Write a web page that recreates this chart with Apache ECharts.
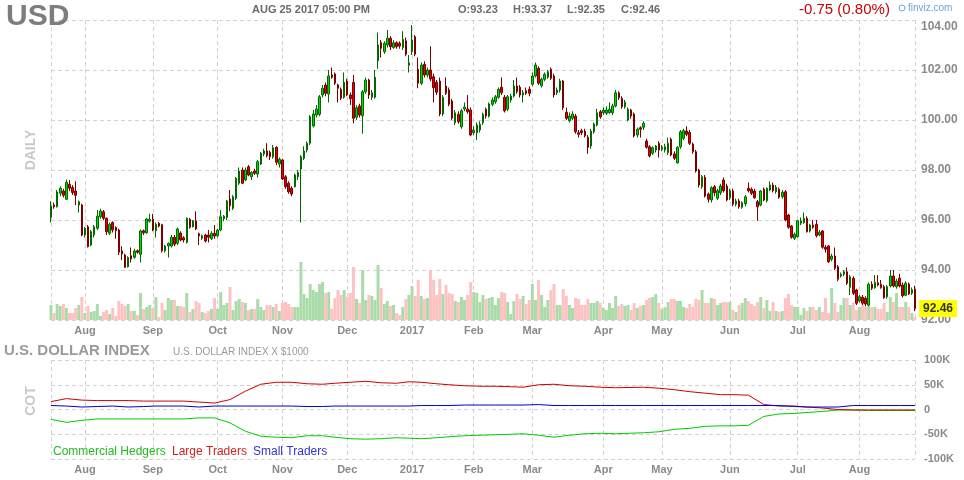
<!DOCTYPE html>
<html><head><meta charset="utf-8">
<script src="https://cdn.jsdelivr.net/npm/echarts@6/dist/echarts.min.js"></script>
<style>html,body{margin:0;padding:0;background:#fff}#c{width:964px;height:480px}</style>
</head><body><div id="c"></div>
<script>
// ---------- DATA ----------
const firstDay = '2016-07-15';
const lastDay = '2017-08-25';
const closedDays = ['2016-08-29','2016-09-05','2016-11-24','2016-12-26','2017-01-02','2017-01-16','2017-02-20','2017-04-14','2017-05-29','2017-07-04'];
const monthNames = ['Jan','Feb','Mar','Apr','May','Jun','Jul','Aug','Sep','Oct','Nov','Dec'];

// daily candles [open, high, low, close]
const candles = [
[96.11,96.75,95.90,96.56],[96.60,96.70,96.45,96.53],[96.53,97.20,96.50,97.12],[97.07,97.35,96.95,97.27],[97.16,97.25,96.90,96.99],
[96.83,97.62,96.80,97.51],[97.43,97.60,97.15,97.27],[97.30,97.40,97.00,97.10],[97.16,97.55,96.60,96.99],[96.60,96.78,96.30,96.73],
[96.60,96.65,95.35,95.40],[95.40,95.72,95.30,95.67],[95.73,95.80,94.90,94.93],[95.00,95.60,94.95,95.53],[95.40,95.80,95.30,95.73],
[95.67,96.40,95.60,96.16],[96.13,96.45,96.05,96.36],[96.33,96.40,96.00,96.07],[96.07,96.10,95.40,95.53],[95.47,95.90,95.40,95.83],
[95.90,95.95,95.50,95.60],[95.70,95.75,95.25,95.57],[95.60,95.65,94.60,94.71],[94.76,94.95,94.40,94.64],[94.60,94.65,94.08,94.11],
[94.13,94.55,94.10,94.50],[94.57,94.90,94.30,94.44],[94.51,94.85,94.45,94.76],[94.77,94.82,94.65,94.71],[94.63,95.62,94.30,95.56],
[95.57,95.62,95.40,95.49],[95.49,96.08,95.45,96.04],[95.95,96.25,95.90,96.03],[96.03,96.25,95.55,95.60],[95.57,95.90,95.30,95.83],
[95.87,95.92,95.70,95.76],[95.81,95.85,94.70,94.77],[94.77,95.00,94.70,94.96],[94.96,95.10,94.50,95.07],[94.96,95.40,94.90,95.31],
[95.31,95.40,94.95,95.03],[95.07,95.70,95.00,95.64],[95.48,95.55,95.15,95.20],[95.29,95.35,95.10,95.20],[95.11,96.10,95.05,96.07],
[96.03,96.08,95.65,95.71],[95.73,96.00,95.70,95.97],[95.97,96.35,95.60,95.64],[95.45,95.50,95.00,95.36],[95.27,95.42,95.20,95.37],
[95.40,95.45,95.10,95.16],[95.40,95.60,95.10,95.31],[95.25,95.55,95.20,95.47],[95.47,95.80,95.25,95.36],[95.37,95.65,95.30,95.60],
[95.60,96.40,95.55,96.13],[96.05,96.20,95.95,96.15],[96.10,96.80,96.00,96.76],[96.84,97.20,96.35,96.57],[96.47,97.00,96.40,96.93],
[96.87,97.72,96.80,97.67],[97.47,98.10,97.40,97.96],[98.00,98.10,97.45,97.47],[97.60,98.10,97.55,98.00],[98.13,98.20,97.75,97.80],
[97.73,97.95,97.60,97.90],[97.96,98.05,97.80,97.87],[97.84,98.40,97.70,98.33],[98.24,98.72,98.20,98.67],[98.64,98.85,98.55,98.76],
[98.76,99.07,98.50,98.57],[98.71,98.78,98.40,98.53],[98.53,99.00,98.45,98.89],[98.91,98.95,98.20,98.31],[98.24,98.50,98.10,98.43],
[98.40,98.45,97.60,97.64],[97.73,97.80,97.25,97.33],[97.47,97.55,97.05,97.13],[97.27,97.35,96.95,97.04],[97.33,97.85,97.30,97.80],
[97.73,98.00,97.60,97.90],[98.04,98.60,95.90,98.53],[98.47,98.95,98.40,98.76],[98.80,99.15,98.70,99.07],[99.07,100.20,99.00,100.13],
[99.76,100.40,99.70,100.24],[100.20,100.60,100.10,100.44],[100.23,101.00,100.15,100.93],[101.00,101.40,100.90,101.27],[101.40,101.50,100.95,101.07],
[101.04,102.00,100.70,101.76],[101.80,102.10,101.65,101.71],[101.84,101.90,101.40,101.47],[101.40,101.45,100.70,101.27],[101.23,101.30,100.80,100.87],
[100.91,101.90,100.85,101.51],[101.56,101.65,100.95,101.00],[101.00,101.10,100.60,100.85],[101.50,101.80,99.87,100.07],[100.11,100.60,100.00,100.49],
[100.56,100.65,100.10,100.20],[100.17,101.20,99.45,101.13],[101.13,101.70,101.05,101.60],[101.60,101.65,100.85,101.00],[100.91,101.20,100.80,101.09],
[100.91,102.00,100.85,101.71],[102.37,103.50,102.05,103.00],[103.10,103.20,102.50,102.87],[102.73,103.15,102.65,103.07],[103.00,103.60,102.90,103.27],
[103.27,103.35,102.80,102.93],[102.90,103.20,102.85,103.09],[103.09,103.15,102.85,102.93],[103.07,103.15,102.85,102.96],[102.90,103.55,102.80,103.23],
[103.17,103.30,102.55,102.63],[102.19,102.60,101.90,102.29],[102.73,103.80,102.60,103.20],[103.33,103.40,102.55,102.63],[102.03,102.50,101.27,101.47],
[101.47,102.30,101.40,102.20],[102.23,102.35,101.70,101.80],[101.80,102.10,101.70,102.00],[102.00,102.95,101.55,101.64],[101.73,101.85,100.70,101.29],
[101.51,101.60,101.00,101.11],[101.56,101.70,100.15,100.24],[100.24,101.00,100.15,100.91],[101.36,101.70,101.00,101.07],[101.20,101.30,100.55,100.63],
[100.76,100.85,100.00,100.07],[99.89,100.40,99.80,100.29],[100.23,100.35,99.85,99.93],[99.73,100.45,99.65,100.37],[100.44,100.70,100.35,100.52],
[100.44,101.00,100.25,100.33],[100.40,100.50,99.35,99.40],[99.49,99.75,99.40,99.60],[99.49,99.90,99.20,99.80],[99.60,99.95,99.50,99.83],
[99.89,100.30,99.80,100.23],[100.43,100.50,100.05,100.16],[100.16,100.70,100.10,100.64],[100.63,100.90,100.55,100.80],[100.73,101.00,100.65,100.93],
[100.91,101.30,100.85,101.23],[101.31,101.70,101.00,101.09],[100.91,101.00,100.30,100.37],[100.43,101.00,100.35,100.93],[100.80,101.05,100.70,100.96],
[100.96,101.60,100.90,101.36],[101.36,101.70,101.05,101.13],[101.31,101.40,100.90,101.00],[101.00,101.20,100.70,101.09],[101.17,101.30,101.00,101.07],
[101.23,101.35,100.95,101.07],[101.43,101.90,101.35,101.76],[101.76,102.30,101.70,102.20],[102.07,102.15,101.40,101.47],[101.37,101.70,101.30,101.63],
[101.63,101.90,101.55,101.83],[101.71,102.00,101.65,101.93],[102.03,102.10,101.60,101.67],[101.76,101.85,100.90,101.00],[101.09,101.30,101.00,101.20],
[101.20,101.65,101.10,101.56],[101.56,101.60,100.40,100.49],[100.31,100.50,100.00,100.07],[99.97,100.30,99.90,100.16],[100.07,100.35,100.00,100.24],
[100.16,100.25,99.45,99.53],[99.49,99.60,99.30,99.43],[99.57,99.65,99.40,99.49],[99.56,99.65,99.30,99.37],[99.31,99.40,98.65,98.91],
[98.96,99.65,98.85,99.56],[99.53,99.90,99.45,99.84],[99.80,100.45,99.75,100.29],[100.33,100.40,100.05,100.13],[100.29,100.50,100.20,100.40],
[100.27,100.55,100.20,100.40],[100.29,100.70,100.25,100.43],[100.29,100.65,100.20,100.56],[100.56,101.20,100.50,101.09],[101.09,101.15,100.80,100.89],
[100.87,100.95,100.45,100.53],[100.53,100.80,100.45,100.71],[100.00,100.50,99.95,100.43],[100.40,100.45,100.05,100.16],[100.24,100.30,99.30,99.36],
[99.40,99.70,99.30,99.63],[99.69,99.75,99.30,99.63],[99.71,99.95,99.60,99.87],[99.16,99.25,98.85,98.91],[98.93,99.00,98.50,98.56],
[98.67,98.95,98.60,98.89],[98.80,99.00,98.70,98.96],[99.07,99.15,98.50,98.80],[98.83,99.00,98.75,98.91],[98.80,99.05,98.70,98.93],
[98.69,99.30,98.60,99.07],[99.23,99.30,98.55,98.60],[98.64,98.75,98.40,98.47],[98.29,98.95,98.25,98.91],[98.93,99.60,98.85,99.53],
[99.27,99.65,99.20,99.57],[99.56,99.75,99.35,99.43],[99.51,99.60,99.00,99.07],[99.04,99.10,98.65,98.73],[98.73,98.80,97.90,97.96],
[98.00,98.05,97.30,97.40],[97.33,97.80,97.25,97.73],[97.71,97.80,96.90,96.96],[97.04,97.10,96.70,96.83],[96.80,97.35,96.70,97.29],
[97.33,97.40,96.95,97.09],[96.87,97.25,96.80,97.17],[97.09,97.45,97.00,97.36],[97.60,97.70,97.10,97.17],[97.36,97.45,96.75,96.80],
[96.89,97.25,96.80,97.16],[97.16,97.25,96.55,96.63],[96.63,96.85,96.55,96.76],[96.76,96.85,96.45,96.53],[96.51,96.75,96.45,96.69],
[96.65,97.00,96.55,96.93],[97.27,97.50,97.10,97.17],[97.23,97.30,97.00,97.07],[97.16,97.25,96.85,96.89],[96.73,96.80,95.97,96.53],
[96.60,97.20,96.55,97.16],[97.23,97.30,96.75,96.80],[96.77,97.30,96.70,97.27],[97.20,97.55,97.15,97.40],[97.40,97.50,97.10,97.17],
[97.13,97.40,97.05,97.31],[97.23,97.30,96.85,96.91],[96.93,97.20,96.85,97.11],[97.13,97.20,95.95,96.00],[96.20,96.25,95.65,95.71],
[95.76,95.80,95.25,95.31],[95.27,95.50,95.20,95.43],[95.33,96.00,95.30,95.97],[95.87,96.10,95.80,95.96],[95.89,96.30,95.85,96.07],
[96.07,96.15,95.50,95.53],[95.56,95.85,95.50,95.80],[95.80,96.00,95.65,95.71],[95.83,96.00,95.30,95.37],[95.40,95.60,95.35,95.51],
[95.56,95.60,94.85,94.91],[94.91,95.00,94.70,94.83],[94.96,95.00,94.28,94.33],[94.43,94.65,94.35,94.56],[94.56,94.90,94.00,94.07],
[94.13,94.20,93.55,93.63],[93.76,93.90,93.70,93.83],[93.83,94.00,93.75,93.93],[93.93,94.10,93.40,93.47],[93.31,93.80,93.00,93.73],
[93.67,93.75,93.00,93.07],[93.20,93.25,92.60,92.67],[92.76,93.00,92.70,92.93],[92.91,93.00,92.60,92.67],[92.87,92.95,92.55,92.64],
[92.60,93.50,92.55,93.43],[93.43,93.55,93.20,93.27],[93.29,93.80,93.25,93.51],[93.49,93.80,93.35,93.40],[93.43,93.60,93.25,93.29],
[93.33,93.40,92.85,92.89],[92.93,93.40,92.85,93.33],[93.36,94.00,93.30,93.76],[93.76,94.00,93.30,93.36],[93.33,93.65,93.25,93.56],
[93.67,93.85,93.30,93.36],[93.40,93.50,92.90,92.97],[92.99,93.55,92.95,93.47],[93.44,93.50,93.00,93.04],[93.07,93.30,93.00,93.21],
[93.23,93.37,92.35,92.46]
];

// daily volume (thousand contracts)
const volume = [
15,7,16,14,16,12,7,7,12,15,23,7,14,8,9,16,4,8,10,6,12,4,19,16,14,16,9,9,5,27,11,13,15,12,23,3,17,10,22,20,20,14,14,13,27,8,11,19,17,8,7,9,11,22,11,28,
15,17,33,10,19,21,18,17,10,11,11,21,13,10,15,15,13,16,9,17,18,16,13,13,13,58,
26,22,36,30,28,36,38,27,
28,11,22,30,25,30,23,27,53,21,17,50,20,25,24,20,55,32,16,19,14,15,7,
5,13,21,25,34,24,40,24,21,22,50,40,25,41,26,35,27,26,19,18,23,20,25,38,28,27,18,25,21,22,23,15,22,28,27,18,6,19,26,21,24,16,20,36,20,40,25,13,20,30,36,15,15,31,24,15,
12,22,21,15,15,21,17,17,19,17,12,10,17,12,24,14,16,14,15,10,17,12,14,15,20,22,23,26,17,11,13,18,21,21,19,19,13,12,16,13,21,20,30,17,17,22,21,15,17,18,18,18,10,8,15,17,22,
19,16,14,18,23,12,20,9,18,9,8,9,22,26,15,13,13,5,12,9,13,13,10,13,8,22,7,32,17,8,15,22,22,15,17,10,13,15,13,18,13,13,11,11,17,8,23,18,27,13,13,18,13,7,3
];

// weekly COT net positions (thousand contracts), one value per Friday
const cotCommercial = [-20,-26,-22,-19,-19,-19,-19,-19,-19,-19,-17,-17,-27,-44,-54,-56,-57,-53,-53,-56,-59,-60,-59,-57,-58,-59,-57,-55,-53,-52,-51,-50,-49,-52,-56,-52,-49,-48,-49,-47,-45,-40,-38,-34,-33,-33,-32,-14,-9,-8,-6,-4,-1,-1,-2,-2,-2,-2];
const cotLarge = [16,22,19,18,18,18,17,17,17,17,15,13,20,37,51,55,55,52,51,53,55,57,54,53,56,55,52,50,48,47,47,46,45,50,51,48,47,45,44,45,43,40,36,33,30,30,29,10,7,7,5,3,0,-1,-1,-1,-1,-1];
const cotSmall = [8,7,5,6,7,5,6,7,7,7,5,7,7,7,7,7,7,6,6,7,7,7,7,7,7,8,8,8,9,9,9,9,9,10,8,8,8,8,8,8,8,8,8,8,8,8,8,8,8,6,5,5,5,8,8,8,8,8];

const priceTicks = [92, 94, 96, 98, 100, 102, 104];
const cotTicks = [-100000, -50000, 0, 50000, 100000];

// ---------- BUILD ----------
function tradingDays() {
  const out = [];
  let t = Date.parse(firstDay + 'T00:00:00Z');
  const end = Date.parse(lastDay + 'T00:00:00Z');
  while (t <= end) {
    const d = new Date(t);
    const wd = d.getUTCDay();
    const s = d.toISOString().slice(0, 10);
    if (wd !== 0 && wd !== 6 && closedDays.indexOf(s) < 0) out.push(s);
    t += 86400000;
  }
  return out;
}
const dates = tradingDays();
const N = dates.length;
const isMonthStart = i => i > 0 && dates[i].slice(5, 7) !== dates[i - 1].slice(5, 7);
const labelFor = i => { const m = +dates[i].slice(5, 7); return m === 1 ? dates[i].slice(0, 4) : monthNames[m - 1]; };
const fridays = [];
dates.forEach((d, i) => { if (new Date(d + 'T00:00:00Z').getUTCDay() === 5) fridays.push(i); });
function weekly(arr) {
  const out = new Array(N).fill(null);
  fridays.forEach((idx, k) => { if (k < arr.length) out[idx] = arr[k] * 1000; });
  return out;
}

const FONT = '"Liberation Sans", Arial, Helvetica, sans-serif';
const dashed = { color: '#d2d2d2', type: [4, 3], width: 1 };
const axisFont = { color: '#8a8a8a', fontSize: 11, fontWeight: 'bold', fontFamily: FONT };
const UP = '#00d800', UPB = '#006a00', DN = '#e40000', DNB = '#7a0000';

const candleData = candles.map(r => [r[0], r[3], r[2], r[1]]);
const volData = volume.map((v, i) => ({
  value: v,
  itemStyle: { color: (candles[i] && candles[i][3] >= candles[i][0]) ? '#aadcaa' : '#ffc2c2' }
}));

function xAxisFor(g) {
  return {
    type: 'category', gridIndex: g, data: dates, boundaryGap: false,
    axisLine: { show: false }, axisTick: { show: false },
    axisLabel: Object.assign({}, axisFont, {
      margin: 5,
      interval: (i) => isMonthStart(i),
      formatter: (v, i) => labelFor(i)
    }),
    splitLine: { show: true, interval: (i) => i === 0 || i === N - 1 || isMonthStart(i), lineStyle: dashed }
  };
}

const chart = echarts.init(document.getElementById('c'), null, { renderer: 'canvas' });
chart.setOption({
  animation: false,
  backgroundColor: '#ffffff',
  grid: [
    { left: 51, right: 49, top: 20, height: 300 },
    { left: 51, right: 49, top: 360, height: 99 }
  ],
  xAxis: [xAxisFor(0), xAxisFor(1)],
  yAxis: [
    {
      type: 'value', gridIndex: 0, position: 'right',
      min: priceTicks[0], max: priceTicks[priceTicks.length - 1], interval: priceTicks[1] - priceTicks[0],
      axisLine: { show: false }, axisTick: { show: false },
      axisLabel: Object.assign({}, axisFont, { fontSize: 12, margin: 6, showMaxLabel: false, formatter: v => v.toFixed(2) }),
      splitLine: { show: true, lineStyle: dashed }
    },
    { type: 'value', gridIndex: 0, min: 0, max: 300, show: false, splitLine: { show: false } },
    {
      type: 'value', gridIndex: 1, position: 'right',
      min: cotTicks[0], max: cotTicks[cotTicks.length - 1], interval: cotTicks[1] - cotTicks[0],
      axisLine: { show: false }, axisTick: { show: false },
      axisLabel: Object.assign({}, axisFont, { margin: 9, formatter: v => v === 0 ? '0' : (v / 1000) + 'K' }),
      splitLine: { show: true, lineStyle: dashed }
    }
  ],
  series: [
    {
      name: 'Volume', type: 'bar', xAxisIndex: 0, yAxisIndex: 1, data: volData,
      barWidth: 3, z: 1, silent: true
    },
    {
      name: 'USD', type: 'candlestick', xAxisIndex: 0, yAxisIndex: 0, data: candleData,
      barWidth: 2, z: 3,
      itemStyle: { color: UP, color0: DN, borderColor: UPB, borderColor0: DNB, borderWidth: 1 }
    },
    {
      name: 'Commercial Hedgers', type: 'line', xAxisIndex: 1, yAxisIndex: 2, data: weekly(cotCommercial),
      connectNulls: true, showSymbol: false, symbol: 'none', lineStyle: { color: '#00cc00', width: 1 }, z: 3
    },
    {
      name: 'Large Traders', type: 'line', xAxisIndex: 1, yAxisIndex: 2, data: weekly(cotLarge),
      connectNulls: true, showSymbol: false, symbol: 'none', lineStyle: { color: '#cc0000', width: 1 }, z: 3
    },
    {
      name: 'Small Traders', type: 'line', xAxisIndex: 1, yAxisIndex: 2, data: weekly(cotSmall),
      connectNulls: true, showSymbol: false, symbol: 'none', lineStyle: { color: '#0000cc', width: 1 }, z: 4
    }
  ]
});

// ---------- TEXT / ANNOTATIONS ----------
const last = candles[candles.length - 1];
const prev = candles[candles.length - 2];
const chg = last[3] - prev[3];
const yClose = chart.convertToPixel({ yAxisIndex: 0 }, last[3]);
const yMax = chart.convertToPixel({ yAxisIndex: 0 }, priceTicks[priceTicks.length - 1]);
const txt = (x, y, text, font, fill, extra) => Object.assign({
  type: 'text', x: x, y: y, z: 100,
  style: { text: text, font: font, fill: fill, textAlign: 'left', textVerticalAlign: 'middle' }
}, extra || {});

chart.setOption({
  graphic: [
    txt(6, 17, 'USD', 'bold 30px ' + FONT, '#7d7d7d'),
    txt(252, 10, 'AUG 25 2017 05:00 PM', 'bold 11px ' + FONT, '#6a6a6a'),
    txt(458, 10, 'O:' + last[0].toFixed(2), 'bold 11px ' + FONT, '#6a6a6a'),
    txt(513, 10, 'H:' + last[1].toFixed(2), 'bold 11px ' + FONT, '#6a6a6a'),
    txt(567, 10, 'L:' + last[2].toFixed(2), 'bold 11px ' + FONT, '#6a6a6a'),
    txt(621, 10, 'C:' + last[3].toFixed(2), 'bold 11px ' + FONT, '#6a6a6a'),
    txt(799, 10, chg.toFixed(2) + ' (' + Math.abs(chg / prev[3] * 100).toFixed(2) + '%)', '15px ' + FONT, '#cc0000'),
    { type: 'circle', z: 100, shape: { cx: 902, cy: 8, r: 3 }, style: { fill: 'none', stroke: '#6ea6dc', lineWidth: 1 } },
    txt(908, 8, 'finviz.com', '10px ' + FONT, '#6ea6dc'),
    txt(921, yMax + 7, priceTicks[priceTicks.length - 1].toFixed(2), 'bold 12px ' + FONT, '#8a8a8a'),
    { type: 'text', x: 31, y: 150, rotation: Math.PI / 2, z: 100,
      style: { text: 'DAILY', font: 'bold 14px ' + FONT, fill: '#c9c9c9', textAlign: 'center', textVerticalAlign: 'middle' } },
    { type: 'text', x: 31, y: 401, rotation: Math.PI / 2, z: 100,
      style: { text: 'COT', font: 'bold 14px ' + FONT, fill: '#c9c9c9', textAlign: 'center', textVerticalAlign: 'middle' } },
    txt(4, 351, 'U.S. DOLLAR INDEX', 'bold 15px ' + FONT, '#9a9a9a'),
    txt(173, 352, 'U.S. DOLLAR INDEX X $1000', '10px ' + FONT, '#9a9a9a'),
    txt(53, 452, 'Commercial Hedgers', '12px ' + FONT, '#22bb22'),
    txt(172, 452, 'Large Traders', '12px ' + FONT, '#cc2222'),
    txt(253, 452, 'Small Traders', '12px ' + FONT, '#3333cc'),
    { type: 'rect', z: 110, shape: { x: 919, y: Math.round(yClose) - 9, width: 38, height: 17 }, style: { fill: '#ffff00' } },
    txt(923, Math.round(yClose), last[3].toFixed(2), 'bold 12px ' + FONT, '#333333', { z: 111 })
  ]
});
</script></body></html>
